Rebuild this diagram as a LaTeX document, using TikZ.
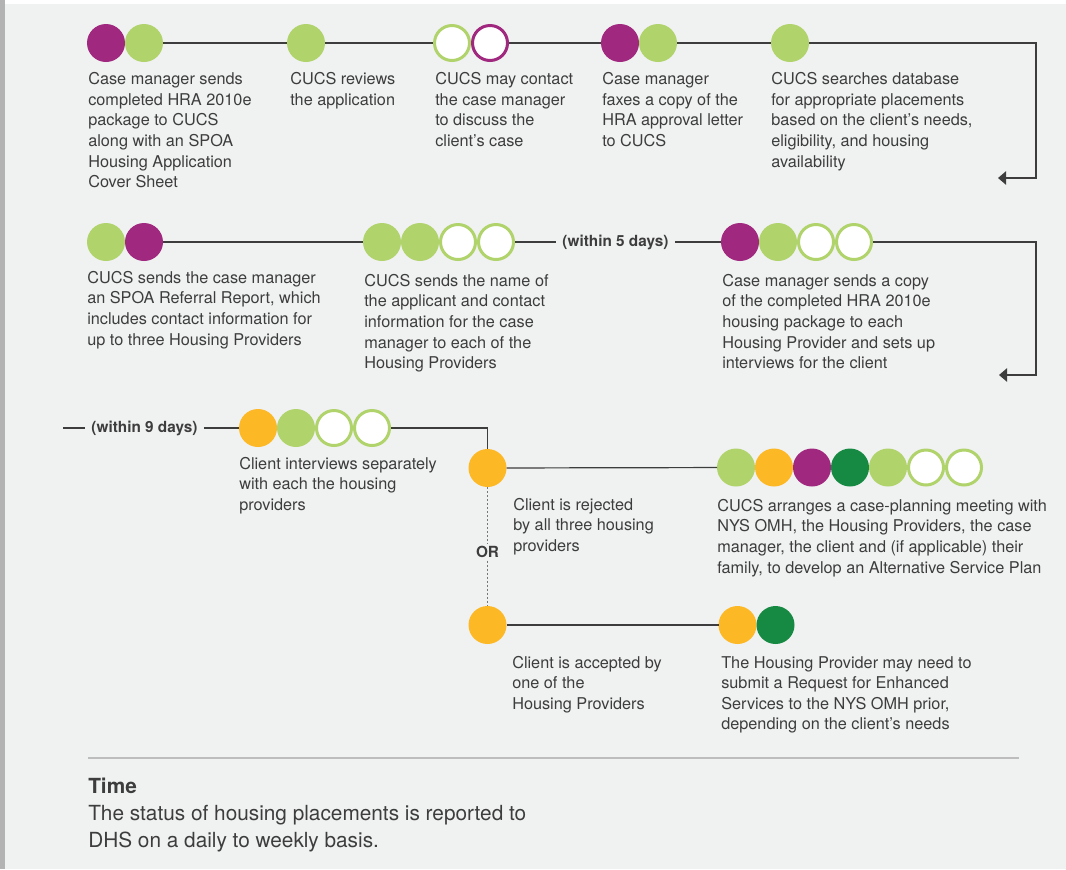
\documentclass[tikz,border=0pt]{standalone}
\usepackage{fontspec}
\setmainfont{TeX Gyre Heros}
\usepackage{xcolor}
\definecolor{plum}{HTML}{A0297F}
\definecolor{leaf}{HTML}{B0D36B}
\definecolor{amber}{HTML}{FDB826}
\definecolor{forest}{HTML}{168A42}
\definecolor{paper}{HTML}{F0F1F1}
\definecolor{strip}{HTML}{B3B3B3}
\definecolor{ink}{HTML}{3D3D3D}
\definecolor{rulegray}{HTML}{BDBDBD}
\usetikzlibrary{arrows.meta, positioning}
\newcommand{\bodyfont}{\fontsize{12.2}{15.4}\selectfont}
\newcommand{\notefont}{\fontsize{15.6}{20.25}\selectfont}

\begin{document}
\begin{tikzpicture}[x=0.75pt, y=-0.75pt,
    dot/.style={circle, minimum size=28.5pt, inner sep=0pt, outer sep=0pt},
    dplum/.style={dot, fill=plum},
    dleaf/.style={dot, fill=leaf},
    damber/.style={dot, fill=amber},
    dforest/.style={dot, fill=forest},
    ring/.style={circle, minimum size=26.25pt, inner sep=0pt, fill=white,
                 draw=leaf, line width=2.25pt},
    ringplum/.style={ring, draw=plum},
    txt/.style={anchor=north west, inner sep=0pt, align=left, font=\bodyfont,
                text=ink},
    days/.style={font=\bfseries\fontsize{11.5}{13}\selectfont, text=ink,
                 inner sep=4.5pt},
    ln/.style={draw=ink, line width=0.9pt},
    tip/.style={-{Triangle[length=6pt, width=10pt]}},
    dots/.style={draw=ink!70, line width=1.1pt, dash pattern=on 1.5pt off 1.5pt}]

  % page
  \useasboundingbox (0,0) rectangle (1066,869);
  \fill[white] (0,0) rectangle (1066,869);
  \fill[paper] (5,4) rectangle (1066,869);
  \fill[strip] (0,0) rectangle (5,869);

  % row 1
  \node[dplum] (s1a) at (106,43) {};
  \node[dleaf, right=0pt of s1a] (s1b) {};
  \node[dleaf] (s2) at (306,43) {};
  \node[ring] (s3a) at (452,43) {};
  \node[ringplum, right=0pt of s3a] (s3b) {};
  \node[dplum] (s4a) at (620,43) {};
  \node[dleaf, right=0pt of s4a] (s4b) {};
  \node[dleaf] (s5) at (790,43) {};
  \coordinate (r1) at (1036,178);
  \coordinate (t1) at (998,178);

  \node[txt] (t1a) at (88,72.5) {Case manager sends\\completed HRA 2010e\\package to CUCS\\along with an SPOA\\Housing Application\\Cover Sheet};
  \node[txt] (t2a) at (290,72.5) {CUCS reviews\\the application};
  \node[txt] (t3a) at (435,72.5) {CUCS may contact\\the case manager\\to discuss the\\client’s case};
  \node[txt] (t4a) at (602,72.5) {Case manager\\faxes a copy of the\\HRA approval letter\\to CUCS};
  \node[txt] (t5a) at (771,72.5) {CUCS searches database\\for appropriate placements\\based on the client’s needs,\\eligibility, and housing\\availability};

  \draw[ln] (s1b) -- (s2) -- (s3a);
  \draw[ln] (s3b) -- (s4a);
  \draw[ln] (s4b) -- (s5);
  \draw[ln, tip] (s5) -| (r1) -- (t1);

  % row 2
  \node[dleaf] (s6a) at (106,242) {};
  \node[dplum, right=0pt of s6a] (s6b) {};
  \node[dleaf] (s7a) at (382,242) {};
  \node[dleaf, right=0pt of s7a] (s7b) {};
  \node[ring, right=0pt of s7b] (s7c) {};
  \node[ring, right=0pt of s7c] (s7d) {};
  \node[days] (d5) at (615.5,242) {(within 5 days)};
  \node[dplum] (s8a) at (740,242) {};
  \node[dleaf, right=0pt of s8a] (s8b) {};
  \node[ring, right=0pt of s8b] (s8c) {};
  \node[ring, right=0pt of s8c] (s8d) {};
  \coordinate (r2) at (1036,375);
  \coordinate (t2) at (999,375);

  \node[txt] (t6a) at (87,271) {CUCS sends the case manager\\an SPOA Referral Report, which\\includes contact information for\\up to three Housing Providers};
  \node[txt] (t7a) at (364,274) {CUCS sends the name of\\the applicant and contact\\information for the case\\manager to each of the\\Housing Providers};
  \node[txt] (t8a) at (722,274) {Case manager sends a copy\\of the completed HRA 2010e\\housing package to each\\Housing Provider and sets up\\interviews for the client};

  \draw[ln] (s6b) -- (s7a);
  \draw[ln] (s7d) -- (d5) -- (s8a);
  \draw[ln, tip] (s8d) -| (r2) -- (t2);

  % row 3
  \coordinate (l9) at (63,428);
  \node[days] (d9) at (144.5,428) {(within 9 days)};
  \node[damber] (s9a) at (258,428) {};
  \node[dleaf, right=0pt of s9a] (s9b) {};
  \node[ring, right=0pt of s9b] (s9c) {};
  \node[ring, right=0pt of s9c] (s9d) {};
  \node[damber] (s10) at (487.5,468) {};
  \node[dleaf] (s11a) at (736,467.5) {};
  \node[damber, right=0pt of s11a] (s11b) {};
  \node[dplum, right=0pt of s11b] (s11c) {};
  \node[dforest, right=0pt of s11c] (s11d) {};
  \node[dleaf, right=0pt of s11d] (s11e) {};
  \node[ring, right=0pt of s11e] (s11f) {};
  \node[ring, right=0pt of s11f] (s11g) {};
  \node[days, inner sep=2pt] (or) at (487.5,552) {OR};

  \node[txt] (t9a) at (239,457) {Client interviews separately\\with each the housing\\providers};
  \node[txt] (t10a) at (513,498) {Client is rejected\\by all three housing\\providers};
  \node[txt] (t11a) at (717,499) {CUCS arranges a case-planning meeting with\\NYS OMH, the Housing Providers, the case\\manager, the client and (if applicable) their\\family, to develop an Alternative Service Plan};

  \draw[ln] (l9) -- (d9) -- (s9a);
  \draw[ln] (s9d) -| (s10);
  \draw[ln] (s10) -- (s11a);

  % row 4
  \node[damber] (s12) at (487.5,625) {};
  \node[damber] (s13a) at (737.5,625) {};
  \node[dforest, right=0pt of s13a] (s13b) {};

  \node[txt] (t12a) at (512,656) {Client is accepted by\\one of the\\Housing Providers};
  \node[txt] (t13a) at (721,656) {The Housing Provider may need to\\submit a Request for Enhanced\\Services to the NYS OMH prior,\\depending on the client’s needs};

  \draw[dots] (s10) -- (or) -- (s12);
  \draw[ln] (s12) -- (s13a);

  % note
  \draw[rulegray, line width=1.6pt] (88,758) -- (1019,758);
  \node[txt, font=\bfseries\notefont] (time) at (88,778) {Time};
  \node[txt, font=\notefont] (note) at (88,805) {The status of housing placements is reported to\\DHS on a daily to weekly basis.};
\end{tikzpicture}
\end{document}
